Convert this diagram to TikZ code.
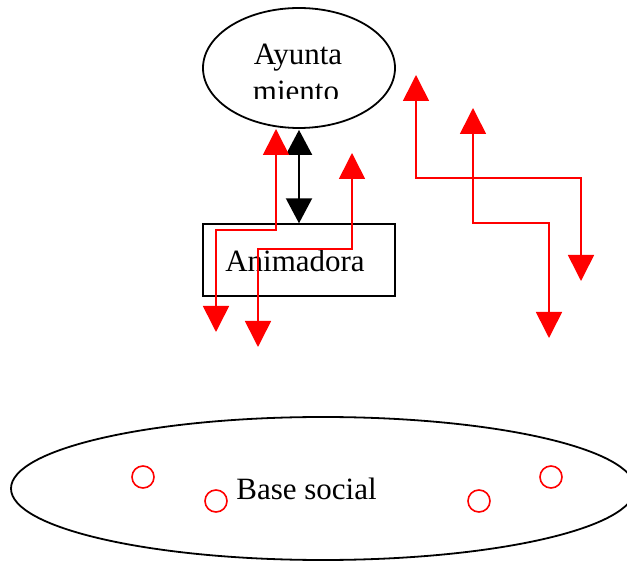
\documentclass[tikz,border=0pt]{standalone}
\usepackage{fontspec}
\setmainfont{Liberation Serif}
\usetikzlibrary{arrows.meta,shapes.geometric}
\begin{document}
\begin{tikzpicture}[x=1pt,y=-1pt,
  shapeline/.style={draw=black,line width=1.8pt,inner sep=0pt},
  lbl/.style={font=\fontsize{31}{37}\selectfont,anchor=base,inner sep=0pt},
  blackarrow/.style={line width=2pt,{Triangle[width=26pt,length=25pt]}-{Triangle[width=26pt,length=25pt]}},
  redarrow/.style={red,line width=1.6pt,{Triangle[width=26pt,length=26pt]}-{Triangle[width=26pt,length=26pt]}},
  member/.style={circle,draw=red,line width=1.6pt,minimum size=22pt,inner sep=0pt}]
\useasboundingbox (0,0) rectangle (627,561);
% shapes
\node[shapeline,ellipse,minimum width=192pt,minimum height=120pt] (ayunt) at (299,68) {};
\node[shapeline,rectangle,line width=1.4pt,minimum width=192pt,minimum height=72pt] (anim) at (299,260) {};
\node[shapeline,ellipse,minimum width=624pt,minimum height=143pt] (base) at (323,488.5) {};
% texts
\begin{scope}
\clip (200,20) rectangle (400,99);
\node[lbl] (t1) at (298,65) {Ayunta};
\node[lbl] (t2) at (296,102) {miento};
\end{scope}
\node[lbl] (t3) at (295,272) {Animadora};
\node[lbl] (t4) at (306.5,499) {Base social};
% members
\node[member] (m1) at (143,477) {};
\node[member] (m2) at (216,501) {};
\node[member] (m3) at (479,501) {};
\node[member] (m4) at (551,477) {};
% black link
\draw[blackarrow] ([yshift=-1pt]ayunt.south) -- (anim.north);
% red arrows
\coordinate (r1a) at (216,332); \coordinate (r1b) at (276,129);
\coordinate (r2a) at (258,347); \coordinate (r2b) at (352,153);
\coordinate (r3a) at (416,75);  \coordinate (r3b) at (581,281);
\coordinate (r4a) at (473,108); \coordinate (r4b) at (549,338);
\draw[redarrow] (r1a) -- (216,230) -- (276,230) -- (r1b);
\draw[redarrow] (r2a) -- (258,249) -- (352,249) -- (r2b);
\draw[redarrow] (r3a) -- (416,178) -- (581,178) -- (r3b);
\draw[redarrow] (r4a) -- (473,223) -- (549,223) -- (r4b);
\end{tikzpicture}
\end{document}
